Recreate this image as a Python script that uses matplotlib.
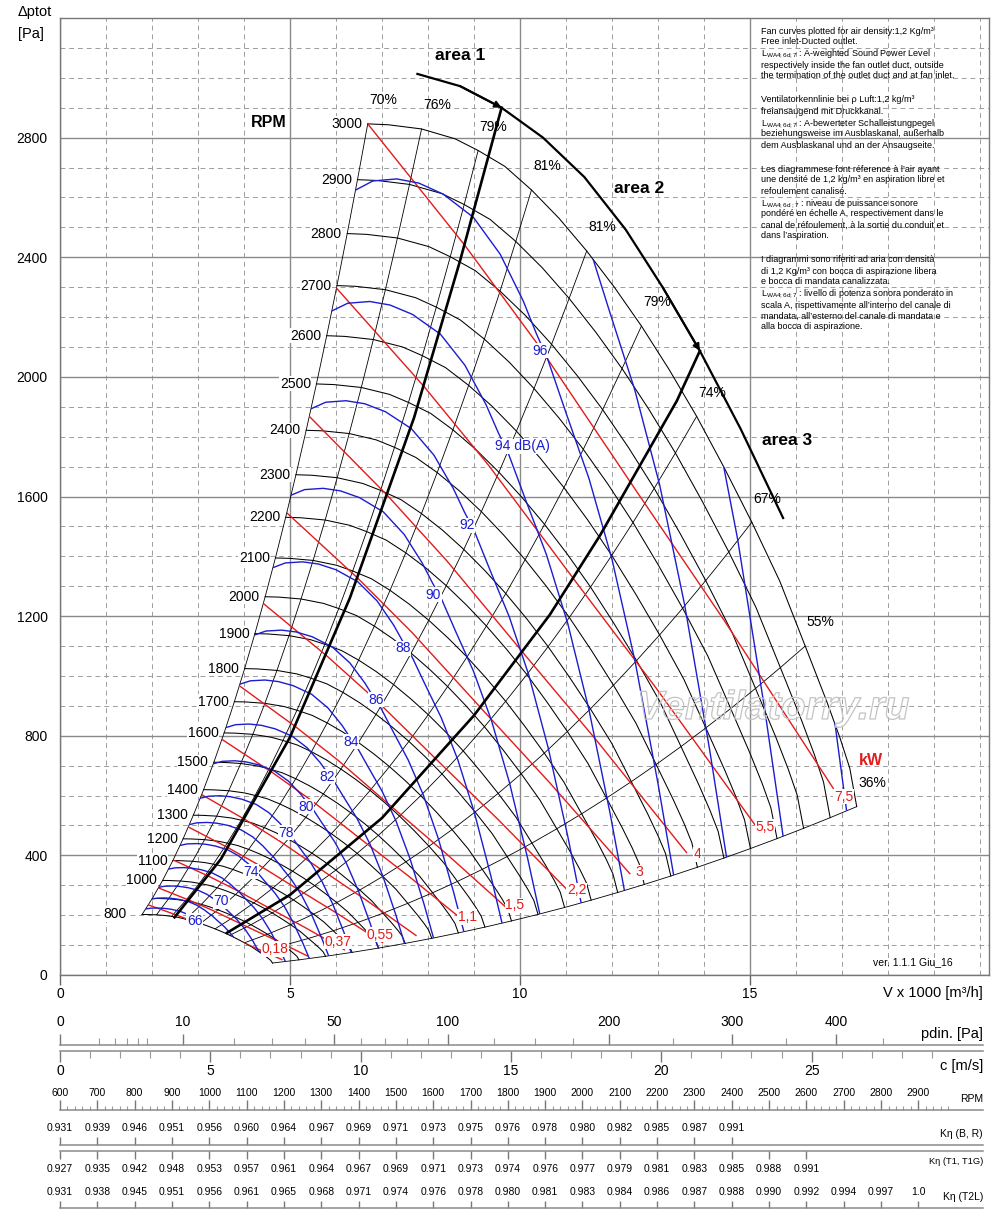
import numpy as np
import matplotlib
matplotlib.use("Agg")
import matplotlib.pyplot as plt
import matplotlib.patheffects as pe
from matplotlib import font_manager
from matplotlib.patches import Polygon

plt.rcParams["font.family"] = ["Liberation Sans", "DejaVu Sans"]
plt.rcParams["mathtext.fontset"] = "custom"
plt.rcParams["mathtext.rm"] = "Liberation Sans"
plt.rcParams["mathtext.it"] = "Liberation Sans:italic"
plt.rcParams["mathtext.bf"] = "Liberation Sans:bold"

installed = {f.name for f in font_manager.fontManager.ttflist}
if "Liberation Sans Narrow" in installed:
    NARROW, NSIZE = "Liberation Sans Narrow", 8.6
else:
    NARROW, NSIZE = "Liberation Sans", 7.5

# ---------------- data ----------------
# fan curve at 3000 rpm  (V x 1000 m3/h , total pressure Pa)
base_v = [6.69, 7.14, 7.86, 8.59, 9.09, 9.67, 10.25, 10.85, 11.45, 12.05, 12.64,
          13.24, 13.84, 14.44, 15.04, 15.65, 16.2, 16.67, 16.96, 17.17, 17.32]
base_p = [2846, 2843, 2829, 2796, 2757, 2704, 2625, 2530, 2421, 2300, 2170,
          2025, 1868, 1696, 1514, 1316, 1100, 914, 791, 691, 563]
rpm = list(range(800, 3001, 100))
rpm_no_label = [900]

# efficiency lines, where they leave the 3000 rpm curve
eff_text = ["70%", "76%", "79%", "81%", "81%", "79%", "74%", "67%", "55%", "36%"]
eff_v = [6.69, 7.86, 9.09, 10.25, 11.45, 12.64, 13.84, 15.04, 16.2, 17.32]
eff_p = [2846, 2829, 2757, 2625, 2421, 2170, 1868, 1514, 1100, 563]

# sound power line 96 dB(A)
snd_v = [6.43, 6.8, 7.32, 7.8, 8.33, 8.99, 9.57, 10.07, 10.36, 10.6, 11.0,
         11.5, 12.0, 12.5, 13.0, 13.34]
snd_p = [2625, 2655, 2662, 2648, 2611, 2533, 2410, 2254, 2143, 2060, 1880,
         1660, 1390, 1050, 640, 334]
snd_db = [66, 68, 70, 72, 74, 76, 78, 80, 82, 84, 86, 88, 90, 92, 94, 96, 98, 100, 102]
# volume flow where each sound line reaches the lower border
snd_end_v = [3.87, 4.15, 4.46, 4.9, 5.42, 5.84, 6.33, 6.92, 7.49, 8.12, 8.78,
             9.61, 10.43, 11.33, 12.27, 13.34, 14.49, 15.72, 17.1]
snd_lab = ["66", "70", "74", "78", "80", "82", "84", "86", "88", "90", "92",
           "94 dB(A)", "96"]
snd_lab_v = [2.93, 3.51, 4.15, 4.91, 5.35, 5.80, 6.33, 6.87, 7.46, 8.12, 8.84, 9.46, 10.43]
snd_lab_p = [181, 247, 345, 476, 562, 663, 780, 920, 1092, 1272, 1504, 1768, 2087]

# absorbed power line 7,5 kW
pw_v = [6.69, 8.8, 10.38, 12.5, 14.42, 16.81]
pw_p = [2846, 2440, 2110, 1625, 1190, 624]
kw = [0.18, 0.25, 0.37, 0.55, 0.75, 1.1, 1.5, 2.2, 3, 4, 5.5, 7.5]
kw_start_v = [1.92, 2.14, 2.46, 2.79, 3.08, 3.52, 3.90, 4.42, 4.93, 5.42, 6.01, 6.69]
kw_lab = ["0,18", "0,37", "0,55", "1,1", "1,5", "2,2", "3", "4", "5,5", "7,5"]
kw_lab_v = [4.67, 6.04, 6.96, 8.85, 9.89, 11.23, 12.59, 13.86, 15.33, 17.03]
kw_lab_p = [87, 111, 134, 194, 233, 284, 343, 404, 496, 596]

# area borders
area1_v = [2.49, 3.5, 5.0, 6.3, 7.7, 8.7, 9.6]
area1_p = [193, 388, 795, 1260, 1865, 2390, 2900]
area23_v = [3.63, 5.0, 7.0, 9.0, 10.65, 11.74, 13.41, 13.91]
area23_p = [141, 268, 525, 868, 1205, 1470, 1920, 2087]
arc_v = [7.77, 8.7, 9.6, 10.5, 11.4, 12.3, 13.1, 13.91, 14.8, 15.72]
arc_p = [3013, 2972, 2900, 2800, 2668, 2492, 2300, 2087, 1825, 1528]

# bottom scales
pdin_major = [0, 10, 50, 100, 200, 300, 400]
pdin_minor = [1, 2, 3, 4, 5, 20, 30, 40, 60, 70, 80, 90, 125, 150, 175, 250, 350, 450]
c_major = [0, 5, 10, 15, 20, 25]
c_minor = list(range(1, 30))
scale_rpm = list(range(600, 3000, 100))
k_br = ["0.931", "0.939", "0.946", "0.951", "0.956", "0.960", "0.964", "0.967", "0.969",
        "0.971", "0.973", "0.975", "0.976", "0.978", "0.980", "0.982", "0.985", "0.987", "0.991"]
k_t1 = ["0.927", "0.935", "0.942", "0.948", "0.953", "0.957", "0.961", "0.964", "0.967",
        "0.969", "0.971", "0.973", "0.974", "0.976", "0.977", "0.979", "0.981", "0.983",
        "0.985", "0.988", "0.991"]
k_t2l = ["0.931", "0.938", "0.945", "0.951", "0.956", "0.961", "0.965", "0.968", "0.971",
         "0.974", "0.976", "0.978", "0.980", "0.981", "0.983", "0.984", "0.986", "0.987",
         "0.988", "0.990", "0.992", "0.994", "0.997", "1.0"]

RED = "#e31b1b"
BLUE = "#1c1cd0"
GRID = "#8a8a8a"
WPX, HPX = 1000, 1219

fig = plt.figure(figsize=(10, 12.19), dpi=100)
ax = fig.add_axes([60 / WPX, 1 - 975 / HPX, 929 / WPX, 957 / HPX])
ax.set_xlim(0, 929 / 46)
ax.set_ylim(0, 3200)

ax.set_xticks([0, 5, 10, 15])
ax.set_xticks(range(0, 21), minor=True)
ax.set_yticks(range(0, 3200, 400))
ax.set_yticks(range(0, 3201, 100), minor=True)
ax.grid(which="major", color=GRID, lw=1.0)
ax.grid(which="minor", color="#9c9c9c", lw=0.7, ls=(0, (5, 4)))
ax.set_axisbelow(True)
ax.tick_params(axis="x", which="major", direction="out", length=7, width=1,
               color="#666666", labelsize=10, pad=2)
ax.tick_params(axis="y", which="major", length=0, labelsize=10, pad=9)
ax.tick_params(which="minor", length=0)
for sp in ax.spines.values():
    sp.set_color("#777777")
    sp.set_linewidth(1)

bv = np.array(base_v)
bp = np.array(base_p)
rr = np.array(rpm) / 3000.0
lab_box = dict(fc="white", ec="none", pad=0.4)

# region of the fan map (used to trim the sound / power lines)
left = [(bv[0] * r, bp[0] * r * r) for r in rr]
top = list(zip(bv, bp))
bottom = [(bv[-1] * r, bp[-1] * r * r) for r in rr[::-1]]
low = list(zip(bv * rr[0], bp * rr[0] ** 2))[::-1]
region = Polygon(left + top + bottom + low, closed=True, fc="none", ec="none",
                 transform=ax.transData)
ax.add_patch(region)

# fan curves
for n in rpm:
    r = n / 3000.0
    ax.plot(bv * r, bp * r * r, color="black", lw=0.75, zorder=2)
    if n not in rpm_no_label:
        off = -11 if n == 800 else -4
        ax.annotate(str(n), (bv[0] * r, bp[0] * r * r), xytext=(off, 0),
                    textcoords="offset points", ha="right", va="center",
                    fontsize=10, bbox=lab_box, zorder=6)

# efficiency lines
for t, v, p in zip(eff_text, eff_v, eff_p):
    ax.plot(v * rr, p * rr ** 2, color="black", lw=0.6, zorder=2)
    ax.annotate(t, (v, p), xytext=(11, 17), textcoords="offset points",
                ha="center", va="center", fontsize=10, zorder=6)

# power lines
pv = np.array(pw_v)
pp = np.array(pw_p)
for v0 in kw_start_v:
    s = v0 / pw_v[0]
    ln, = ax.plot(pv * s, pp * s * s, color=RED, lw=1.0, zorder=3)
    ln.set_clip_path(region)
for t, v, p in zip(kw_lab, kw_lab_v, kw_lab_p):
    ax.text(v, p, t, color=RED, fontsize=10, ha="center", va="center",
            bbox=lab_box, zorder=6)

# sound lines
sv = np.array(snd_v)
sp_ = np.array(snd_p)
for e in snd_end_v:
    s = e / snd_v[-1]
    ln, = ax.plot(sv * s, sp_ * s * s, color=BLUE, lw=1.0, zorder=3)
    ln.set_clip_path(region)
for t, v, p in zip(snd_lab, snd_lab_v, snd_lab_p):
    ax.text(v, p, t, color=BLUE, fontsize=10, va="center",
            ha="left" if "dB" in t else "center", bbox=lab_box, zorder=6)

# area borders
ax.plot(area1_v, area1_p, color="black", lw=1.9, zorder=4)
ax.plot(area23_v, area23_p, color="black", lw=1.9, zorder=4)
ax.plot(arc_v, arc_p, color="black", lw=1.6, zorder=4)
for i in (2, 7):
    ax.annotate("", xy=(arc_v[i], arc_p[i]), xytext=(arc_v[i - 1], arc_p[i - 1]),
                arrowprops=dict(arrowstyle="-|>", color="black", lw=1.4,
                                mutation_scale=10, shrinkA=0, shrinkB=0), zorder=5)

ax.text(8.70, 3075, "area 1", fontsize=12.5, weight="bold", ha="center", va="center")
ax.text(12.59, 2629, "area 2", fontsize=12.5, weight="bold", ha="center", va="center")
ax.text(15.80, 1788, "area 3", fontsize=12.5, weight="bold", ha="center", va="center")
ax.text(4.54, 2851, "RPM", fontsize=11.5, weight="bold", ha="center", va="center",
        bbox=lab_box, zorder=6)
ax.text(17.62, 717, "kW", fontsize=11.5, weight="bold", color=RED, ha="center",
        va="center", zorder=6)

# watermark
fig.text(0.773, 1 - 708 / HPX, "Ventilatorry.ru", fontsize=29, style="italic",
         weight="bold", color=(1, 1, 1, 0), ha="center", va="center",
         path_effects=[pe.Stroke(linewidth=0.9, foreground="#c4c4c4")])

# axis texts
fig.text(18 / WPX, 1 - 12 / HPX, "Δptot", fontsize=10.5, ha="left", va="center")
fig.text(18 / WPX, 1 - 34 / HPX, "[Pa]", fontsize=10.5, ha="left", va="center")
fig.text(983 / WPX, 1 - 993 / HPX, "V x 1000 [m³/h]", fontsize=10.5, ha="right", va="center")
fig.text(873 / WPX, 1 - 962 / HPX, "ver. 1.1.1 Giu_16", fontsize=7.5, ha="left", va="center")

# notes block
LW = r"L$_{\mathregular{WA4;6d;7}}$"
LW2 = r"L$_{\mathregular{WA4;6d\ ;7}}$"
notes = [
    (31, "Fan curves plotted for air density:1,2 Kg/m³"),
    (42, "Free inlet-Ducted outlet."),
    (54, LW + " : A-weighted Sound Power Level"),
    (65, "respectively inside the fan outlet duct, outside"),
    (76, "the termination of the outlet duct and at fan inlet."),
    (100, "Ventilatorkennlinie bei ρ Luft:1,2 kg/m³"),
    (111, "freiansaugend mit Druckkanal."),
    (124, LW + " : A-bewerteter Schalleistungpegel"),
    (134, "beziehungsweise im Ausblaskanal, außerhalb"),
    (145, "dem Ausblaskanal und an der Ansaugseite."),
    (170, "Les diagrammese font réference à l’air ayant"),
    (180, "une densité de 1,2 kg/m³ en aspiration libre et"),
    (191, "refoulement canalisé."),
    (204, LW2 + " : niveau de puissance sonore"),
    (214, "pondéré en échelle A, respectivement dans le"),
    (225, "canal de réfoulement, à la sortie du conduit et"),
    (236, "dans l’aspiration."),
    (260, "I diagrammi sono riferiti ad aria con densità"),
    (271, "di 1,2 Kg/m³ con bocca di aspirazione libera"),
    (282, "e bocca di mandata canalizzata."),
    (294, LW + " : livello di potenza sonora ponderato in"),
    (305, "scala A, rispettivamente all’interno del canale di"),
    (316, "mandata, all’esterno del canale di mandata e"),
    (326, "alla bocca di aspirazione."),
]
for py, t in notes:
    fig.text(761 / WPX, 1 - py / HPX, t, fontsize=6.5, ha="left", va="center")


# ---------------- bottom scales ----------------
def scale_axes(py, side):
    sa = fig.add_axes([60 / WPX, 1 - py / HPX, 923 / WPX, 0.0001])
    sa.patch.set_visible(False)
    sa.set_yticks([])
    for k, s in sa.spines.items():
        s.set_visible(k == side)
    sa.spines[side].set_color(GRID)
    sa.spines[side].set_linewidth(1.1)
    if side == "top":
        sa.xaxis.tick_top()
    else:
        sa.xaxis.tick_bottom()
    return sa


def style(sa, big, small, pad, size, family=None):
    sa.tick_params(which="major", direction="out", length=big, width=1,
                   color="#777777", labelsize=size, pad=pad)
    sa.tick_params(which="minor", direction="out", length=small, width=0.8,
                   color="#999999")
    if family:
        for lb in sa.get_xticklabels():
            lb.set_fontfamily(family)


rpm_lim = (601.3, 3073.2)

s1 = scale_axes(1045, "top")
s1.set_xscale("function", functions=(np.sqrt, np.square))
s1.set_xlim(0, 566)
s1.set_xticks(pdin_major, labels=[str(x) for x in pdin_major])
s1.set_xticks(pdin_minor, minor=True)
style(s1, 7.7, 4.8, 3.5, 10)
fig.text(983 / WPX, 1 - 1034 / HPX, "pdin. [Pa]", fontsize=10.5, ha="right", va="center")

s2 = scale_axes(1051, "bottom")
s2.set_xlim(0, 30.7)
s2.set_xticks(c_major, labels=[str(x) for x in c_major])
s2.set_xticks(c_minor, minor=True)
style(s2, 7.7, 4.8, 1.5, 10)
fig.text(983 / WPX, 1 - 1066 / HPX, "c [m/s]", fontsize=10.5, ha="right", va="center")

s3 = scale_axes(1110, "top")
s3.set_xlim(*rpm_lim)
s3.set_xticks(scale_rpm, labels=[str(x) for x in scale_rpm])
s3.set_xticks(range(620, 3000, 20), minor=True)
style(s3, 7, 3, 1.8, NSIZE, NARROW)
fig.text(983 / WPX, 1 - 1099 / HPX, "RPM", fontsize=NSIZE, family=NARROW,
         ha="right", va="center")

s4 = scale_axes(1145, "top")
s4.set_xlim(*rpm_lim)
s4.set_xticks(scale_rpm[:len(k_br)], labels=k_br)
style(s4, 5.8, 0, 2.5, NSIZE, NARROW)
fig.text(983 / WPX, 1 - 1134 / HPX, "Kη (B, R)", fontsize=NSIZE, family=NARROW,
         ha="right", va="center")

s5 = scale_axes(1150.7, "bottom")
s5.set_xlim(*rpm_lim)
s5.set_xticks(scale_rpm[:len(k_t1)], labels=k_t1)
style(s5, 5.8, 0, 4, NSIZE, NARROW)
fig.text(983 / WPX, 1 - 1162 / HPX, "Kη (T1, T1G)", fontsize=NSIZE - 0.8, family=NARROW,
         ha="right", va="center")

s6 = scale_axes(1208, "top")
s6.set_xlim(*rpm_lim)
s6.set_xticks(scale_rpm[:len(k_t2l)], labels=k_t2l)
style(s6, 5, 0, 2.5, NSIZE, NARROW)
fig.text(983 / WPX, 1 - 1197 / HPX, "Kη (T2L)", fontsize=NSIZE, family=NARROW,
         ha="right", va="center")

fig.savefig("out.png", dpi=100)
